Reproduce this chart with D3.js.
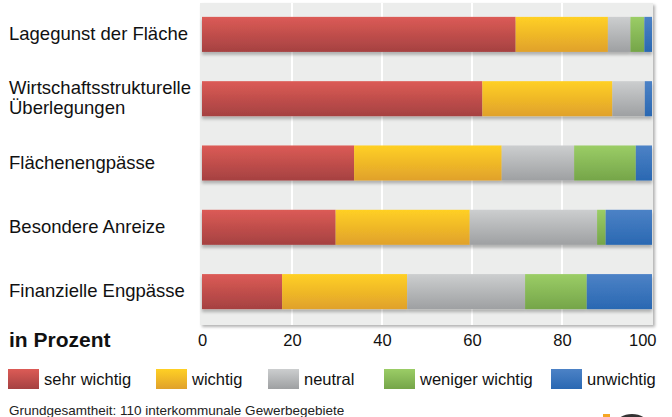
<!DOCTYPE html>
<html>
<head>
<meta charset="utf-8">
<script src="https://cdn.jsdelivr.net/npm/d3@7"></script>
<style>
  body { margin: 0; background: #fff; }
  svg { display: block; font-family: "Liberation Sans", Arial, sans-serif; }
</style>
</head>
<body>
<div id="chart"></div>
<script>
// categories (top to bottom)
var categories = ["Lagegunst der Fläche", "Wirtschaftsstrukturelle\nÜberlegungen", "Flächenengpässe", "Besondere Anreize", "Finanzielle Engpässe"];

// percentages per answer, one value per category
var sehrWichtig    = [69.7, 62.3, 33.8, 29.7, 17.8];
var wichtig        = [20.5, 28.9, 32.8, 29.8, 27.8];
var neutral        = [5.0, 7.2, 16.1, 28.3, 26.2];
var wenigerWichtig = [3.1, 0.0, 13.7, 1.9, 13.7];
var unwichtig      = [1.7, 1.6, 3.6, 10.3, 14.5];

var seriesNames = ["sehr wichtig", "wichtig", "neutral", "weniger wichtig", "unwichtig"];
var seriesValues = [sehrWichtig, wichtig, neutral, wenigerWichtig, unwichtig];
var ticks = [0, 20, 40, 60, 80, 100];

var colors = [
  {top: "#dc5b56", bottom: "#a54141"},
  {top: "#ffd024", bottom: "#e0a12b"},
  {top: "#cccecf", bottom: "#9ea0a2"},
  {top: "#9bcd66", bottom: "#75a549"},
  {top: "#4c82c6", bottom: "#2a68b2"}
];

var width = 672, height = 417;

var svg = d3.select("#chart").append("svg")
    .attr("width", width)
    .attr("height", height);

var defs = svg.append("defs");
colors.forEach(function(c, i) {
  var g = defs.append("linearGradient")
      .attr("id", "grad" + i)
      .attr("x1", 0).attr("y1", 0).attr("x2", 0).attr("y2", 1);
  g.append("stop").attr("offset", "0%").attr("stop-color", c.top);
  g.append("stop").attr("offset", "100%").attr("stop-color", c.bottom);
});
var panelShadow = defs.append("filter").attr("id", "panelShadow")
    .attr("x", "-5%").attr("y", "-5%").attr("width", "110%").attr("height", "110%");
panelShadow.append("feDropShadow")
    .attr("dx", 2).attr("dy", 2).attr("stdDeviation", 1.5)
    .attr("flood-color", "#000").attr("flood-opacity", 0.3);
var barShadow = defs.append("filter").attr("id", "barShadow")
    .attr("x", "-5%").attr("y", "-20%").attr("width", "110%").attr("height", "150%");
barShadow.append("feDropShadow")
    .attr("dx", 0).attr("dy", 3).attr("stdDeviation", 1.5)
    .attr("flood-color", "#000").attr("flood-opacity", 0.25);

var xScale = d3.scaleLinear().domain([0, 100]).range([202, 652]);
var yScale = d3.scaleBand().domain(categories).range([4, 322])
    .paddingInner(0.455).paddingOuter(0.2);

// panel
svg.append("rect")
    .attr("x", 200).attr("y", 3)
    .attr("width", 453).attr("height", 322)
    .attr("fill", "#ecedec")
    .attr("filter", "url(#panelShadow)");

// grid
svg.append("g").selectAll("line")
    .data(ticks.slice(1, -1))
    .enter().append("line")
    .attr("x1", function(d) { return xScale(d); })
    .attr("x2", function(d) { return xScale(d); })
    .attr("y1", 3).attr("y2", 325)
    .attr("stroke", "#fff")
    .attr("stroke-width", 2);

// stacked bars
var table = categories.map(function(c, i) {
  var row = {category: c};
  seriesNames.forEach(function(s, j) { row[s] = seriesValues[j][i]; });
  return row;
});
var stacked = d3.stack().keys(seriesNames)(table);

var rows = svg.append("g").selectAll("g.row")
    .data(categories)
    .enter().append("g")
    .attr("class", "row")
    .attr("filter", "url(#barShadow)");

rows.selectAll("rect")
    .data(function(c, i) {
      return stacked.map(function(s, j) { return {k: j, cat: c, v: s[i]}; });
    })
    .enter().append("rect")
    .attr("x", function(d) { return xScale(d.v[0]); })
    .attr("y", function(d) { return yScale(d.cat); })
    .attr("width", function(d) { return Math.max(0, xScale(d.v[1]) - xScale(d.v[0])); })
    .attr("height", yScale.bandwidth())
    .attr("fill", function(d) { return "url(#grad" + d.k + ")"; });

// category labels
var labels = svg.append("g").selectAll("text")
    .data(categories)
    .enter().append("text")
    .attr("x", 9)
    .attr("font-size", "18.5px")
    .attr("fill", "#111");
labels.each(function(c) {
  var lines = c.split("\n");
  var cy = yScale(c) + yScale.bandwidth() / 2 + 5.5;
  var t = d3.select(this);
  lines.forEach(function(l, i) {
    t.append("tspan")
      .attr("x", 9)
      .attr("y", cy + (i - (lines.length - 1) / 2) * 20)
      .text(l);
  });
});

// x axis
var xAxis = d3.axisBottom(xScale).tickValues(ticks).tickSize(0).tickPadding(0);
var axisG = svg.append("g")
    .attr("transform", "translate(0,334)")
    .call(xAxis);
axisG.select(".domain").remove();
axisG.selectAll("text")
    .attr("font-family", "'Liberation Sans', Arial, sans-serif")
    .attr("font-size", "16.5px")
    .attr("fill", "#111")
    .attr("dy", "0.71em")
    .attr("text-anchor", function(d) { return d === 100 ? "end" : "middle"; })
    .attr("x", function(d) { return d === 100 ? 4 : 0; });

svg.append("text")
    .attr("x", 9).attr("y", 347)
    .attr("font-size", "21px")
    .attr("font-weight", "bold")
    .attr("fill", "#111")
    .text("in Prozent");

// legend
var legendX = [8, 156, 268, 384, 551];
var legend = svg.append("g").selectAll("g")
    .data(seriesNames)
    .enter().append("g")
    .attr("transform", function(d, i) { return "translate(" + legendX[i] + ",369)"; });
legend.append("rect")
    .attr("width", 31).attr("height", 20)
    .attr("fill", function(d, i) { return "url(#grad" + i + ")"; });
legend.append("text")
    .attr("x", 36).attr("y", 16)
    .attr("font-size", "16.5px")
    .attr("fill", "#111")
    .text(function(d) { return d; });

svg.append("text")
    .attr("x", 9).attr("y", 415)
    .attr("font-size", "13.5px")
    .attr("fill", "#222")
    .text("Grundgesamtheit: 110 interkommunale Gewerbegebiete");

// logo fragment at the bottom edge
svg.append("rect")
    .attr("x", 603).attr("y", 414).attr("width", 7).attr("height", 4)
    .attr("fill", "#f5a623");
svg.append("ellipse")
    .attr("cx", 632).attr("cy", 424).attr("rx", 16).attr("ry", 10)
    .attr("fill", "#333");
</script>
</body>
</html>
